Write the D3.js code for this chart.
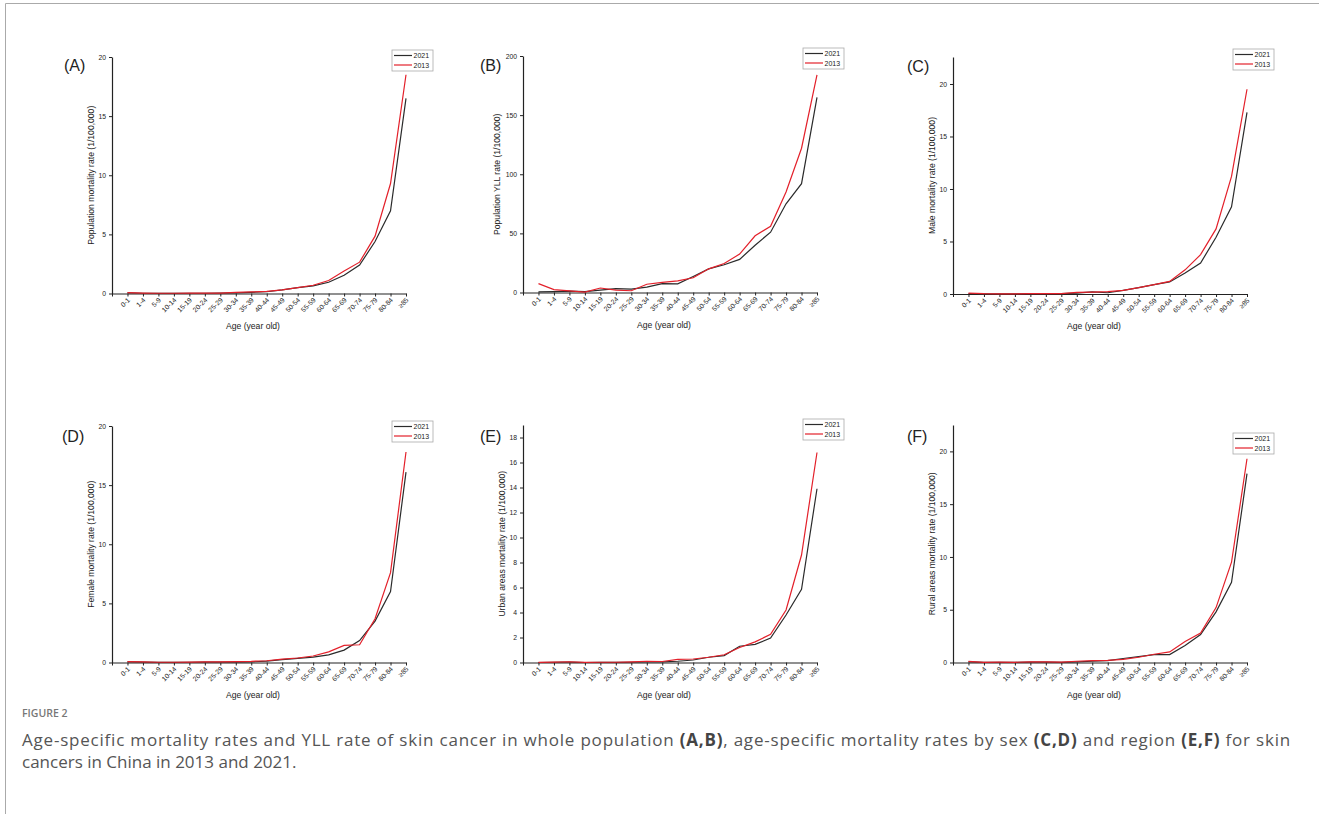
<!DOCTYPE html>
<html>
  <head>
    <title>Figure 2</title>
    <script src="https://d3js.org/d3.v7.min.js"></script>
    <style>
      body { margin: 0; background: #fff; }
      svg { display: block; }
    </style>
  </head>
  <body>
    <svg width="1319" height="814"></svg>
    <script>
      // age groups on the x axis
      var ages = ["0-1","1-4","5-9","10-14","15-19","20-24","25-29","30-34","35-39","40-44",
                  "45-49","50-54","55-59","60-64","65-69","70-74","75-79","80-84","\u226585"];

      // (A) population mortality rate
      var popMort2021 = [0.05,0.02,0.01,0.01,0.02,0.02,0.03,0.06,0.1,0.15,0.3,0.5,0.65,0.95,1.55,2.4,4.4,7.0,16.5];
      var popMort2013 = [0.08,0.04,0.02,0.02,0.03,0.03,0.04,0.1,0.13,0.18,0.3,0.5,0.7,1.1,1.9,2.65,4.85,9.3,18.5];
      // (B) population YLL rate
      var popYll2021 = [0.5,0.8,1.2,0.8,2.0,3.2,2.8,4.5,7.5,7.3,13.5,20,23.5,28,40,51,75,92,165];
      var popYll2013 = [7.5,2.5,1.3,0.3,3.8,2.0,1.5,7.0,8.5,9.8,12.5,20,24.5,32.5,48,56,85,122,184];
      // (C) male
      var male2021 = [0.05,0.02,0.01,0.01,0.03,0.03,0.03,0.08,0.2,0.12,0.35,0.6,0.9,1.15,2.0,2.95,5.4,8.3,17.3];
      var male2013 = [0.08,0.03,0.02,0.02,0.04,0.04,0.04,0.15,0.18,0.22,0.35,0.6,0.9,1.2,2.3,3.75,6.2,11.2,19.5];
      // (D) female
      var female2021 = [0.05,0.03,0.01,0.01,0.02,0.03,0.03,0.04,0.05,0.12,0.25,0.35,0.45,0.65,1.05,1.85,3.5,6.0,16.1];
      var female2013 = [0.08,0.06,0.02,0.02,0.03,0.05,0.05,0.08,0.1,0.15,0.28,0.38,0.55,0.9,1.45,1.5,3.7,7.6,17.8];
      // (E) urban
      var urban2021 = [0.0,0.02,0.03,0.0,0.01,0.01,0.02,0.04,0.05,0.1,0.2,0.42,0.55,1.3,1.45,1.95,3.8,5.85,13.9];
      var urban2013 = [0.01,0.03,0.06,0.01,0.02,0.02,0.05,0.1,0.08,0.25,0.28,0.42,0.62,1.2,1.65,2.25,4.2,8.6,16.8];
      // (F) rural
      var rural2021 = [0.05,0.02,0.02,0.01,0.04,0.03,0.02,0.06,0.12,0.18,0.38,0.55,0.75,0.75,1.6,2.65,4.8,7.6,17.9];
      var rural2013 = [0.1,0.02,0.03,0.02,0.06,0.05,0.03,0.12,0.18,0.2,0.3,0.5,0.78,1.0,2.0,2.8,5.2,9.5,19.3];

      var years = ["2021", "2013"];
      var colors = ["#2b2b2b", "#e3202a"];

      var svg = d3.select("svg");

      // page frame
      svg.append("line").attr("x1", 5.5).attr("x2", 1319).attr("y1", 3.5).attr("y2", 3.5)
        .attr("stroke", "#aaa").attr("stroke-width", 1);
      svg.append("line").attr("x1", 5.5).attr("x2", 5.5).attr("y1", 3.5).attr("y2", 814)
        .attr("stroke", "#aaa").attr("stroke-width", 1);

      var panels = [
        {tag: "(A)", x0: 112, top: 57, bottom: 293.5, ymax: 20, step: 5, label: "Population mortality rate (1/100,000)",
         s: [popMort2021, popMort2013], lx: 64, ly: 71, leg: -7},
        {tag: "(B)", x0: 523, top: 56, bottom: 292.5, ymax: 200, step: 50, label: "Population YLL rate (1/100,000)",
         s: [popYll2021, popYll2013], lx: 480, ly: 71, leg: -8},
        {tag: "(C)", x0: 953, top: 57, bottom: 294, ymax: 22.57, step: 5, label: "Male mortality rate (1/100,000)",
         s: [male2021, male2013], lx: 907, ly: 72, leg: -8},
        {tag: "(D)", x0: 112, top: 426, bottom: 662.5, ymax: 20, step: 5, label: "Female mortality rate (1/100,000)",
         s: [female2021, female2013], lx: 62, ly: 442, leg: -5},
        {tag: "(E)", x0: 523, top: 425, bottom: 662.5, ymax: 19, step: 2, label: "Urban areas mortality rate (1/100,000)",
         s: [urban2021, urban2013], lx: 480, ly: 442, leg: -6},
        {tag: "(F)", x0: 953, top: 425, bottom: 662.5, ymax: 22.5, step: 5, label: "Rural areas mortality rate (1/100,000)",
         s: [rural2021, rural2013], lx: 907, ly: 442, leg: 8}
      ];

      var W = 294;

      panels.forEach(function(p) {
        var g = svg.append("g").attr("transform", "translate(" + p.x0 + ",0)");
        var x = d3.scaleLinear().domain([-1, ages.length - 1]).range([0, W]);
        var y = d3.scaleLinear().domain([0, p.ymax]).range([p.bottom, p.top]);

        var xAxis = d3.axisBottom(x).tickValues(d3.range(-1, ages.length))
          .tickSize(3).tickSizeOuter(0)
          .tickFormat(function(d) { return d < 0 ? "" : ages[d]; });
        var gx = g.append("g").attr("transform", "translate(0," + p.bottom + ")").call(xAxis);
        gx.selectAll("text")
          .attr("font-family", "Liberation Sans, Arial, sans-serif")
          .attr("font-size", 6.8).attr("fill", "#222")
          .attr("text-anchor", "end")
          .attr("dy", null).attr("y", 0)
          .attr("transform", "translate(2.5,7) rotate(-45)");

        var yAxis = d3.axisLeft(y).tickValues(d3.range(0, p.ymax + 0.001, p.step))
          .tickSize(3).tickSizeOuter(0);
        var gy = g.append("g").call(yAxis);
        gy.selectAll("text")
          .attr("font-family", "Liberation Sans, Arial, sans-serif")
          .attr("font-size", 6.8).attr("fill", "#222");
        g.selectAll(".domain").attr("stroke", "#222").attr("stroke-width", 1.2);
        g.selectAll(".tick line").attr("stroke", "#222");

        // axis titles
        g.append("text").attr("x", W / 2 - 6).attr("y", p.bottom + 35)
          .attr("text-anchor", "middle")
          .attr("font-family", "Liberation Sans, Arial, sans-serif").attr("font-size", 8.6)
          .attr("fill", "#222").text("Age (year old)");
        g.append("text")
          .attr("transform", "translate(" + (p.ymax >= 100 ? -23 : -18) + "," + ((p.top + p.bottom) / 2) + ") rotate(-90)")
          .attr("text-anchor", "middle")
          .attr("font-family", "Liberation Sans, Arial, sans-serif").attr("font-size", 8.6)
          .attr("fill", "#222").text(p.label);

        // lines
        var line = d3.line().x(function(d, i) { return x(i); }).y(function(d) { return y(d); });
        p.s.forEach(function(vals, k) {
          g.append("path").datum(vals).attr("d", line)
            .attr("fill", "none").attr("stroke", colors[k]).attr("stroke-width", 1.2);
        });

        // legend
        var lg = g.append("g").attr("transform", "translate(" + (W - 14) + "," + (p.top + p.leg) + ")");
        lg.append("rect").attr("width", 41).attr("height", 21)
          .attr("fill", "#fff").attr("stroke", "#aaa").attr("stroke-width", 0.8);
        years.forEach(function(yr, k) {
          lg.append("line").attr("x1", 2).attr("x2", 20)
            .attr("y1", 5.5 + k * 9.5).attr("y2", 5.5 + k * 9.5)
            .attr("stroke", colors[k]).attr("stroke-width", 1.2);
          lg.append("text").attr("x", 21.5).attr("y", 8 + k * 9.5)
            .attr("font-family", "Liberation Sans, Arial, sans-serif").attr("font-size", 7)
            .attr("fill", "#222").text(yr);
        });

        // panel tag
        svg.append("text").attr("x", p.lx).attr("y", p.ly)
          .attr("font-family", "Liberation Sans, Arial, sans-serif").attr("font-size", 16)
          .attr("fill", "#222").text(p.tag);
      });

      // caption
      var font = "Open Sans, Lato, sans-serif";
      svg.append("text").attr("x", 22).attr("y", 717)
        .attr("font-family", font).attr("font-size", 10.5).attr("font-weight", 600)
        .attr("fill", "#777").text("FIGURE 2");
      var cap1 = svg.append("text").attr("x", 22).attr("y", 746)
        .attr("font-family", font).attr("font-size", 17).attr("fill", "#555");
      var parts = [
        ["Age-specific mortality rates and YLL rate of skin cancer in whole population ", false],
        ["(A,B)", true], [", age-specific mortality rates by sex ", false], ["(C,D)", true],
        [" and region ", false], ["(E,F)", true], [" for skin", false]
      ];
      parts.forEach(function(t) {
        var ts = cap1.append("tspan").text(t[0]);
        if (t[1]) ts.attr("font-weight", 700).attr("fill", "#444");
      });
      // stretch the first line to the right edge with a little letter spacing
      var natural = cap1.node().getComputedTextLength();
      var nChars = parts.map(function(t) { return t[0]; }).join("").length;
      cap1.attr("letter-spacing", Math.max(0, (1291 - 22 - natural) / nChars));
      svg.append("text").attr("x", 22).attr("y", 768)
        .attr("font-family", font).attr("font-size", 17).attr("fill", "#555")
        .text("cancers in China in 2013 and 2021.");
    </script>
  </body>
</html>
